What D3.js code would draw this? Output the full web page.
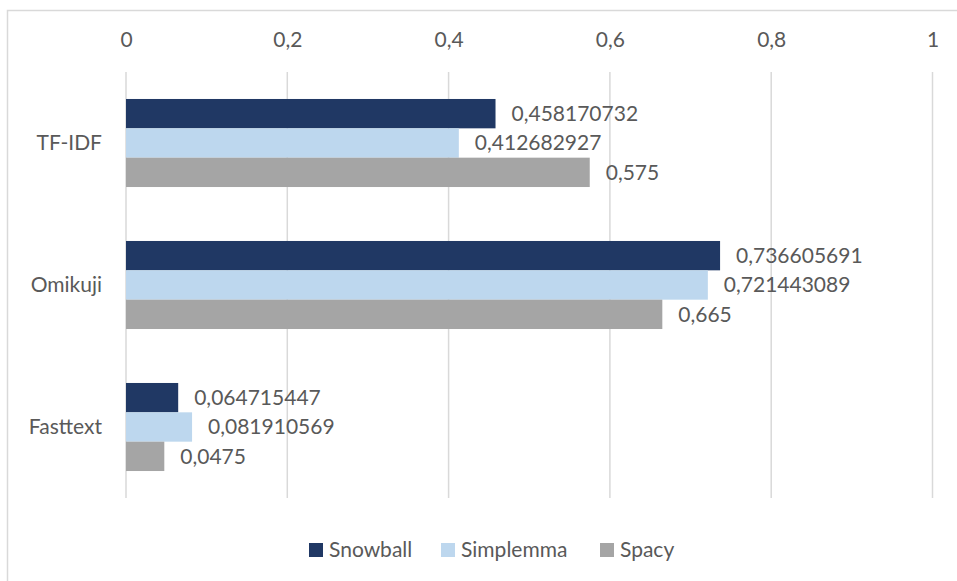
<!DOCTYPE html>
<html>
<head>
<meta charset="utf-8">
<script src="https://cdn.jsdelivr.net/npm/d3@7"></script>
<style>
  html, body { margin: 0; padding: 0; background: #ffffff; }
  svg { display: block; }
  text { font-family: Lato, "Open Sans", sans-serif; fill: #595959; }
</style>
</head>
<body>
<svg id="chart" width="957" height="581"></svg>
<script>
// Categories (top to bottom) and series values
const categories = ["TF-IDF", "Omikuji", "Fasttext"];
const seriesNames = ["Snowball", "Simplemma", "Spacy"];
const snowball = [0.458170732, 0.736605691, 0.064715447];
const simplemma = [0.412682927, 0.721443089, 0.081910569];
const spacy = [0.575, 0.665, 0.0475];
const xTicks = [0, 0.2, 0.4, 0.6, 0.8, 1];
const colors = ["#203864", "#BDD7EE", "#A5A5A5"];

const seriesValues = [snowball, simplemma, spacy];
const comma = v => String(v).replace(".", ",");

const svg = d3.select("#chart");
const W = 957, H = 581;
const plot = { left: 126, right: 932.5, top: 72, bottom: 498 };

// Outer chart frame
svg.append("rect")
  .attr("x", 7.5).attr("y", 10.5)
  .attr("width", W + 10).attr("height", H + 10)
  .attr("fill", "#ffffff")
  .attr("stroke", "#d9d9d9").attr("stroke-width", 1.5);

const x = d3.scaleLinear().domain([0, 1]).range([plot.left, plot.right]);
const y0 = d3.scaleBand().domain(categories).range([plot.top, plot.bottom])
  .paddingInner(0.38).paddingOuter(0.19);
const y1 = d3.scaleBand().domain(seriesNames).range([0, y0.bandwidth()]);

// Vertical gridlines
svg.append("g").selectAll("line").data(xTicks).join("line")
  .attr("x1", d => x(d)).attr("x2", d => x(d))
  .attr("y1", plot.top).attr("y2", plot.bottom)
  .attr("stroke", "#d9d9d9").attr("stroke-width", 1.5);

// Top value axis labels
const xAxis = d3.axisTop(x).tickValues(xTicks).tickSize(0).tickPadding(0)
  .tickFormat(d => comma(d));
const gx = svg.append("g").attr("transform", "translate(0,47)").call(xAxis);
gx.select(".domain").remove();
gx.selectAll("text").attr("font-size", 21).attr("fill", "#595959")
  .attr("font-family", "Lato, 'Open Sans', sans-serif").attr("dy", 0);

// Category axis labels
const yAxis = d3.axisLeft(y0).tickSize(0).tickPadding(24);
const gy = svg.append("g").attr("transform", `translate(${plot.left},0)`).call(yAxis);
gy.select(".domain").remove();
gy.selectAll("text").attr("font-size", 21).attr("fill", "#595959")
  .attr("font-family", "Lato, 'Open Sans', sans-serif");

// Bars and value labels
const rows = [];
categories.forEach((c, i) => {
  seriesNames.forEach((s, j) => rows.push({ cat: c, series: s, value: seriesValues[j][i], color: colors[j] }));
});

const groups = svg.append("g");
groups.selectAll("rect").data(rows).join("rect")
  .attr("x", x(0))
  .attr("y", d => y0(d.cat) + y1(d.series))
  .attr("width", d => x(d.value) - x(0))
  .attr("height", y1.bandwidth())
  .attr("fill", d => d.color);

groups.selectAll("text").data(rows).join("text")
  .attr("x", d => x(d.value) + 16)
  .attr("y", d => y0(d.cat) + y1(d.series) + y1.bandwidth() / 2)
  .attr("dy", "0.35em")
  .attr("font-size", 21)
  .text(d => comma(d.value));

// Legend
const legendItems = [
  { name: "Snowball", x: 309 },
  { name: "Simplemma", x: 441 },
  { name: "Spacy", x: 600 }
];
const legend = svg.append("g");
legendItems.forEach((item, j) => {
  legend.append("rect").attr("x", item.x).attr("y", 543)
    .attr("width", 14).attr("height", 14).attr("fill", colors[j]);
  legend.append("text").attr("x", item.x + 20).attr("y", 550)
    .attr("dy", "0.35em").attr("font-size", 21).text(item.name);
});
</script>
</body>
</html>
